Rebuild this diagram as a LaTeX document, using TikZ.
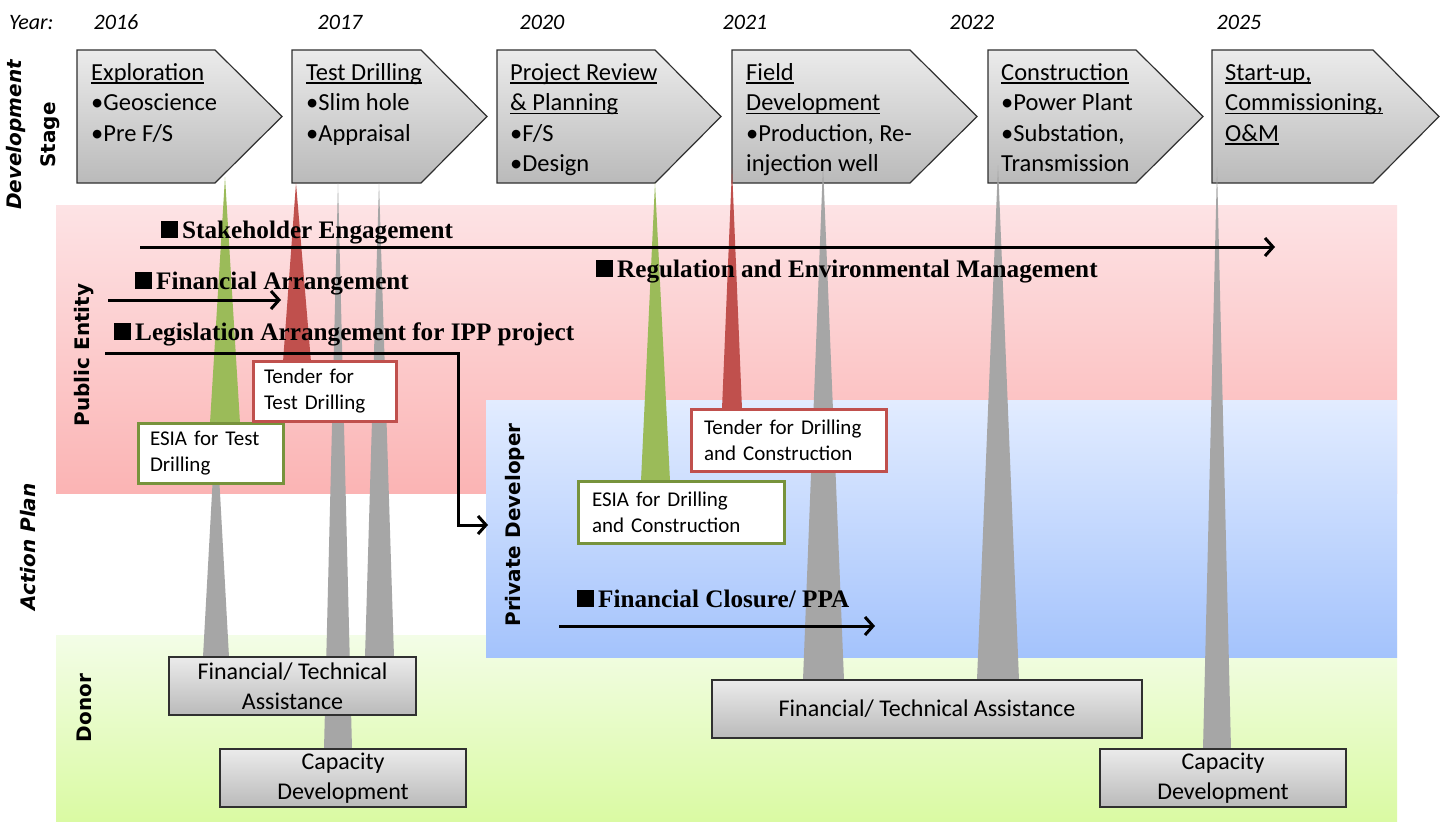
\documentclass[tikz,border=0pt]{standalone}
\usepackage{fontspec}
\setmainfont{Carlito}
\newfontfamily\headfont{Liberation Serif}
\newfontfamily\sidefont{DejaVu Sans}
\usetikzlibrary{arrows.meta}

\definecolor{pinktop}{HTML}{FDE3E5}
\definecolor{pinkbot}{HTML}{FBB4B4}
\definecolor{bluetop}{HTML}{E2ECFF}
\definecolor{bluebot}{HTML}{A4C3FC}
\definecolor{greentop}{HTML}{F3FDE7}
\definecolor{greenbot}{HTML}{DAFAA3}
\definecolor{spikegrey}{HTML}{A6A6A6}
\definecolor{spikegreen}{HTML}{9BBB59}
\definecolor{spikered}{HTML}{C0504D}
\definecolor{esiagreen}{HTML}{77933C}
\definecolor{tenderred}{HTML}{C0504D}
\definecolor{boxtop}{HTML}{EBEBEB}
\definecolor{boxbot}{HTML}{BABABA}
\definecolor{chevline}{HTML}{303030}

% underlined heading word with a heavier rule
\newcommand\ultext[1]{\setbox0=\hbox{#1}\rlap{\rule[-3.6pt]{\wd0}{1.7pt}}\box0}
% black square bullet in front of the action headings
\newcommand\sqmark{\rule{17pt}{17pt}\hspace{4pt}}

\begin{document}
\begin{tikzpicture}[x=1pt,y=-1pt,
  chev/.style={draw=chevline,line width=1.2pt,top color=boxtop,bottom color=boxbot},
  ctext/.style={font=\fontsize{24.5}{30.5}\selectfont,align=left,anchor=north west,inner sep=0pt},
  yr/.style={font=\itshape\fontsize{22}{26}\selectfont,anchor=base,inner sep=0pt},
  side/.style={font=\sidefont\bfseries\fontsize{20}{24}\selectfont,rotate=90,inner sep=0pt},
  sideit/.style={side,font=\sidefont\bfseries\itshape\fontsize{20}{24}\selectfont},
  head/.style={font=\headfont\bfseries\fontsize{25.2}{28}\selectfont,anchor=base west,inner sep=0pt},
  greybox/.style={draw=chevline,line width=1.2pt,top color=boxtop,bottom color=boxbot,
    font=\fontsize{24}{30}\selectfont,align=center,inner sep=0pt},
  notebox/.style={fill=white,line width=3pt,font=\fontsize{21}{26}\selectfont,
    align=left,inner ysep=0pt},
  arr/.style={line width=3pt,-{Straight Barb[length=8pt,width=18pt,line width=3pt]}}
]
\useasboundingbox (0,0) rectangle (1450,827);
\fill[white] (0,0) rectangle (1450,827);

% background bands for the actors
\path[top color=pinktop,bottom color=pinkbot] (56,205) rectangle (1397,493);
\path[top color=greentop,bottom color=greenbot] (56,635) rectangle (1397,821);
\path[top color=bluetop,bottom color=bluebot] (486,400) rectangle (1397,657);

% development stage chevrons
\path[chev] (77,50)--(215,50)--(282,116.5)--(215,183)--(77,183)--cycle;
\path[chev] (292,50)--(421,50)--(487,116.5)--(421,183)--(292,183)--cycle;
\path[chev] (497,50)--(655,50)--(721,116.5)--(655,183)--(497,183)--cycle;
\path[chev] (732,50)--(910,50)--(977,116.5)--(910,183)--(732,183)--cycle;
\path[chev] (988,50)--(1136,50)--(1203,116.5)--(1136,183)--(988,183)--cycle;
\path[chev] (1212,50)--(1373,50)--(1439,116.5)--(1373,183)--(1212,183)--cycle;

% spikes from the stages down to the actions
\fill[spikegreen] (225,177) -- (210,423) -- (240,423) -- cycle;
\fill[spikegrey] (216,420) -- (203,657) -- (229,657) -- cycle;
\fill[spikered] (296,183) -- (283,362) -- (311,362) -- cycle;
\fill[spikegrey] (338,183) -- (324,749) -- (352,749) -- cycle;
\fill[spikegrey] (379,183) -- (365,657) -- (394,657) -- cycle;
\fill[spikegreen] (655,183) -- (641,481) -- (670,481) -- cycle;
\fill[spikered] (732,168) -- (722,409) -- (742,409) -- cycle;
\fill[spikegrey] (823,165) -- (803,680) -- (844,680) -- cycle;
\fill[spikegrey] (998,165) -- (977,680) -- (1019,680) -- cycle;
\fill[spikegrey] (1217,167) -- (1203,749) -- (1231,749) -- cycle;

% year labels
\node[yr,anchor=base west] (year) at (9,29) {Year:};
\node[yr] (y16) at (116,29) {2016};
\node[yr] (y17) at (340,29) {2017};
\node[yr] (y20) at (542,29) {2020};
\node[yr] (y21) at (745,29) {2021};
\node[yr] (y22) at (972,29) {2022};
\node[yr] (y25) at (1239,29) {2025};

% stage texts
\node[ctext] (s1) at (91,58.6) {\strut\ultext{Exploration}\\•Geoscience\\•Pre F/S};
\node[ctext] (s2) at (306,58.6) {\strut\ultext{Test Drilling}\\•Slim hole\\•Appraisal};
\node[ctext] (s3) at (510,58.6) {\strut\ultext{Project Review}\\\ultext{\& Planning}\\•F/S\\•Design};
\node[ctext] (s4) at (746,58.6) {\strut\ultext{Field}\\\ultext{Development}\\•Production, Re-\\injection well};
\node[ctext] (s5) at (1001,58.6) {\strut\ultext{Construction}\\•Power Plant\\•Substation,\\Transmission};
\node[ctext] (s6) at (1225,58.6) {\strut\ultext{Start-up,}\\\ultext{Commissioning,}\\\ultext{O\&M}};

% side labels
\node[sideit] (dev) at (16,135) {Development};
\node[side] (stage) at (50,135) {Stage};
\node[sideit] (act) at (28,547) {Action Plan};
\node[side] (pub) at (84,355) {Public Entity};
\node[side] (don) at (84,708) {Donor};
\node[side] (prv) at (515,525) {Private Developer};

% permit and tender boxes
\node[notebox,draw=esiagreen,minimum width=145pt,minimum height=60pt,text width=121pt,inner xsep=12pt] (esia1) at (210.5,453) {ESIA for Test\\Drilling};
\node[notebox,draw=tenderred,minimum width=143pt,minimum height=60pt,text width=121pt,inner xsep=11pt] (tend1) at (324.5,391) {Tender for\\Test Drilling};
\node[notebox,draw=esiagreen,minimum width=206pt,minimum height=62pt,text width=178pt,inner xsep=14pt] (esia2) at (681,512) {ESIA for Drilling\\and Construction};
\node[notebox,draw=tenderred,minimum width=195pt,minimum height=62pt,text width=169pt,inner xsep=13pt] (tend2) at (788.5,440) {Tender for Drilling\\and Construction};

% donor support boxes
\node[greybox,minimum width=247pt,minimum height=58pt] (fta1) at (292.5,686) {Financial/ Technical\\Assistance};
\node[greybox,minimum width=246pt,minimum height=58pt] (cap1) at (343,778) {Capacity\\Development};
\node[greybox,minimum width=430pt,minimum height=58pt] (fta2) at (927,709) {Financial/ Technical Assistance};
\node[greybox,minimum width=246pt,minimum height=58pt] (cap2) at (1223,778) {Capacity\\Development};

% action arrows
\coordinate (se0) at (140,247); \coordinate (se1) at (1275,247);
\coordinate (fa0) at (108,300); \coordinate (fa1) at (281,300);
\coordinate (la0) at (105,353); \coordinate (lac) at (458,353); \coordinate (la1) at (488,525);
\coordinate (fc0) at (559,626); \coordinate (fc1) at (875,626);
\draw[arr] (se0) -- (se1);
\draw[arr] (fa0) -- (fa1);
\draw[arr] (la0) -- (lac) |- (la1);
\draw[arr] (fc0) -- (fc1);

% action headings
\node[head] (hse) at (161,238) {\sqmark Stakeholder Engagement};
\node[head] (hfa) at (135,289) {\sqmark Financial Arrangement};
\node[head] (hla) at (114,340) {\sqmark Legislation Arrangement for IPP project};
\node[head] (hre) at (596,277) {\sqmark Regulation and Environmental Management};
\node[head] (hfc) at (577,607) {\sqmark Financial Closure/ PPA};
\end{tikzpicture}
\end{document}
